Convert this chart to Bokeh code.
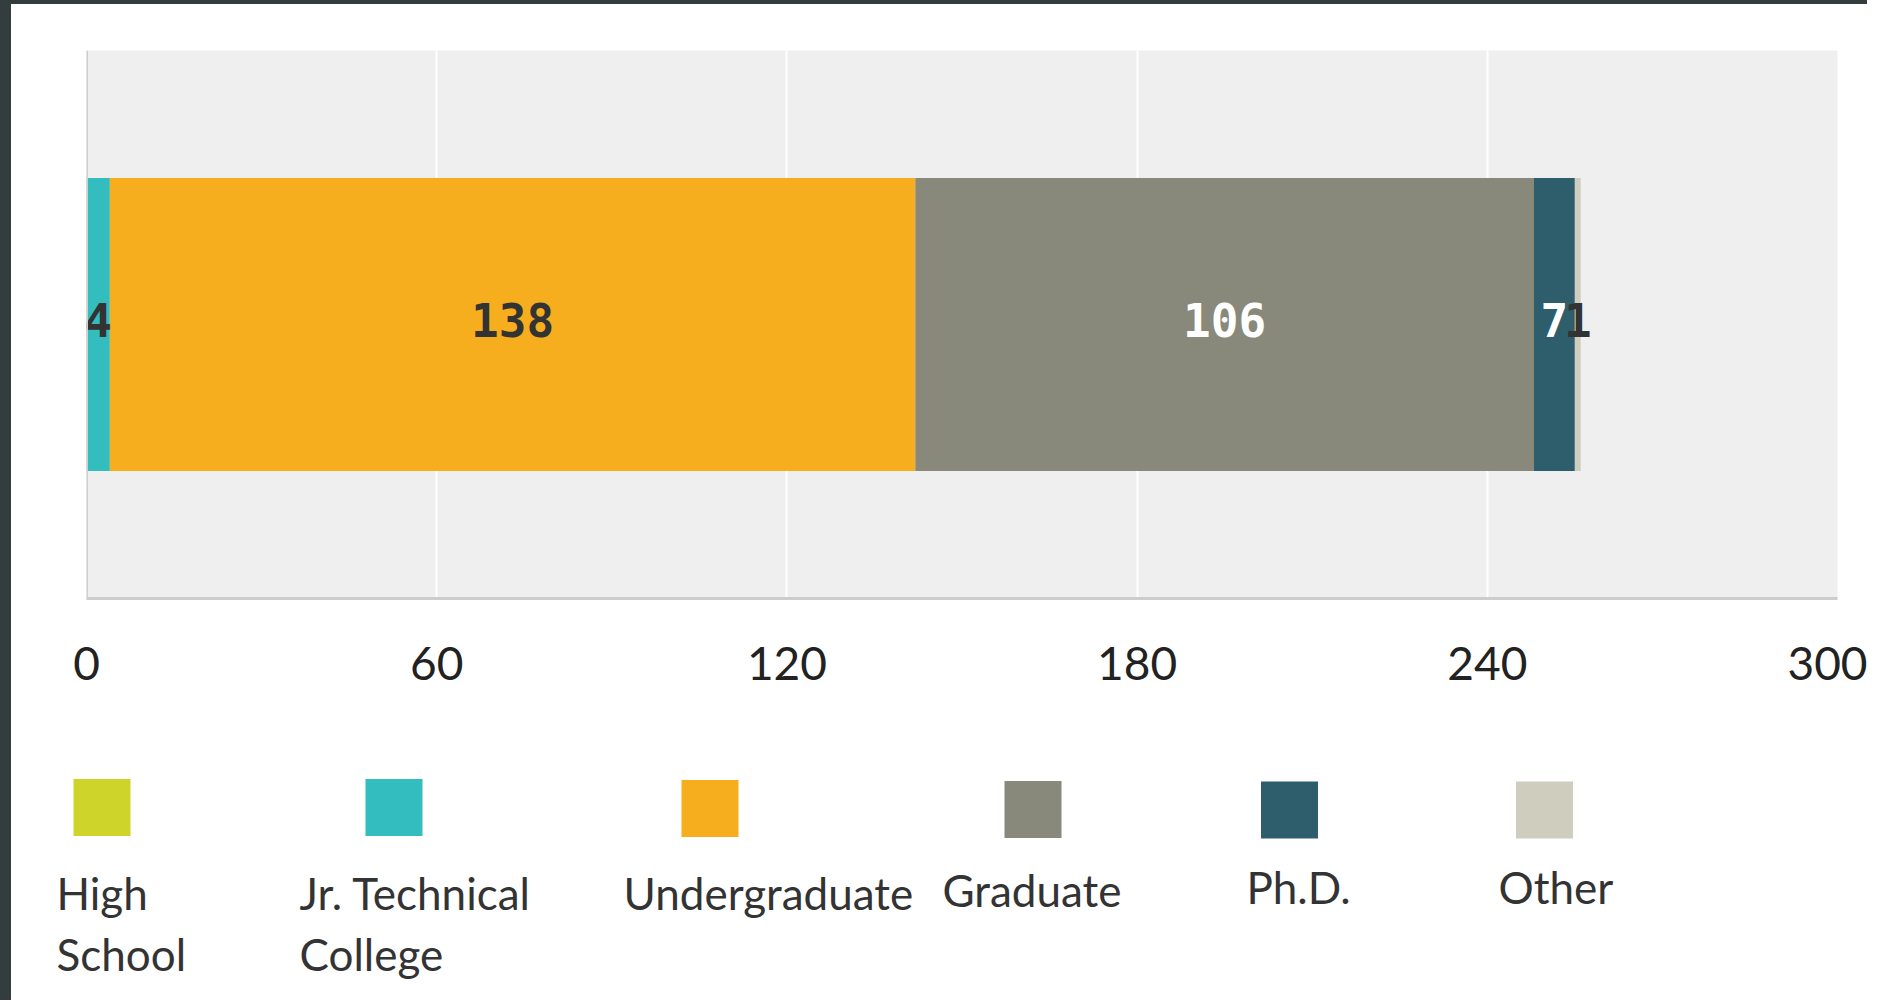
import numpy as np
from bokeh.plotting import figure
from bokeh.models import ColumnDataSource, FixedTicker, Span, FactorRange, Range1d, Spacer
from bokeh.layouts import column, row
from bokeh.embed import file_html
from bokeh.resources import INLINE
from bokeh.core.properties import value

# ---- data ----
category = ["Education"]
series = ["High School", "Jr. Technical College", "Undergraduate", "Graduate", "Ph.D.", "Other"]
legend_labels = ["High\nSchool", "Jr. Technical\nCollege", "Undergraduate", "Graduate", "Ph.D.", "Other"]
values = [0, 4, 138, 106, 7, 1]
x_ticks = [0, 60, 120, 180, 240, 300]

# ---- styles ----
colors = ["#cfd42a", "#33bdbf", "#f6ae1f", "#88897a", "#2e5e6c", "#cfcdbe"]
label_colors = ["#333333", "#333333", "#333333", "#ffffff", "#ffffff", "#333333"]
DARK = "#343d3d"
FIG_W = 1856

# ---- main chart ----
p = figure(y_range=FactorRange(*category), x_range=Range1d(0, 300),
           frame_width=1751, frame_height=548,
           min_border_left=75, min_border_right=30, min_border_top=46, min_border_bottom=102,
           output_backend="svg", toolbar_location=None, y_axis_location=None)

p.background_fill_color = "#efefef"
p.border_fill_color = "white"
p.outline_line_color = None

src = ColumnDataSource(dict(cat=category, **{s: [v] for s, v in zip(series, values)}))
p.hbar_stack(series, y="cat", height=0.535, color=colors, line_color=None, source=src)

ends = np.cumsum(values)
mids = ends - np.array(values) / 2.0
keep = [i for i, v in enumerate(values) if v > 0]
lsrc = ColumnDataSource(dict(
    x=[mids[i] for i in keep],
    y=[category[0]] * len(keep),
    text=[str(values[i]) for i in keep],
    color=[label_colors[i] for i in keep],
))
p.text(x="x", y="y", text="text", text_color="color", source=lsrc,
       text_align="center", text_baseline="middle",
       text_font=value("DejaVu Sans Mono"), text_font_style="bold",
       text_font_size="46px", y_offset=-5)

p.add_layout(Span(location=0, dimension="height", line_color="#cfcfcf", line_width=3))

xa = p.xaxis[0]
xa.ticker = FixedTicker(ticks=x_ticks)
xa.axis_line_color = "#cccccc"
xa.axis_line_width = 3
xa.major_tick_line_color = None
xa.minor_tick_line_color = None
xa.major_label_standoff = 42
xa.major_label_text_font = "Lato"
xa.major_label_text_font_size = "46px"
xa.major_label_text_color = "#222222"

p.xgrid.ticker = FixedTicker(ticks=x_ticks)
p.xgrid.grid_line_color = "white"
p.xgrid.grid_line_width = 2
p.ygrid.grid_line_color = None

# ---- legend (custom: square above label), positions in page pixels ----
sq_x = [101.5, 393.5, 709.5, 1032.5, 1289, 1544]
sq_y = [807, 807, 808, 809, 809.5, 809.5]
txt_x = [56, 299, 623, 942, 1246, 1498]
txt_y = [866, 866, 866, 863, 860, 860]

LG_H = 300
lg = figure(width=FIG_W, height=LG_H, x_range=Range1d(11, 11 + FIG_W), y_range=Range1d(700 + LG_H, 700),
            min_border=0, min_border_left=0, min_border_right=0, min_border_top=0, min_border_bottom=0,
            output_backend="svg", toolbar_location=None,
            x_axis_location=None, y_axis_location=None)
lg.grid.visible = False
lg.outline_line_color = None
lg.background_fill_color = "white"
lg.border_fill_color = "white"

lg.rect(x=sq_x, y=sq_y, width=57, height=57, color=colors, line_color=None)
lg.text(x=txt_x, y=txt_y, text=legend_labels, text_baseline="top", text_align="left",
        text_font=value("Lato"), text_font_size="44px", text_color="#333333",
        text_line_height=1.18)

for fig in (p, lg):
    try:
        fig.frame_align = False
    except Exception:
        pass

top_strip = Spacer(width=FIG_W, height=4, styles={"background-color": DARK})
left_strip = Spacer(width=11, height=4 + 696 + LG_H, styles={"background-color": DARK})
layout = row(left_strip, column(top_strip, p, lg))
open("out.html", "w").write(file_html(layout, INLINE))
